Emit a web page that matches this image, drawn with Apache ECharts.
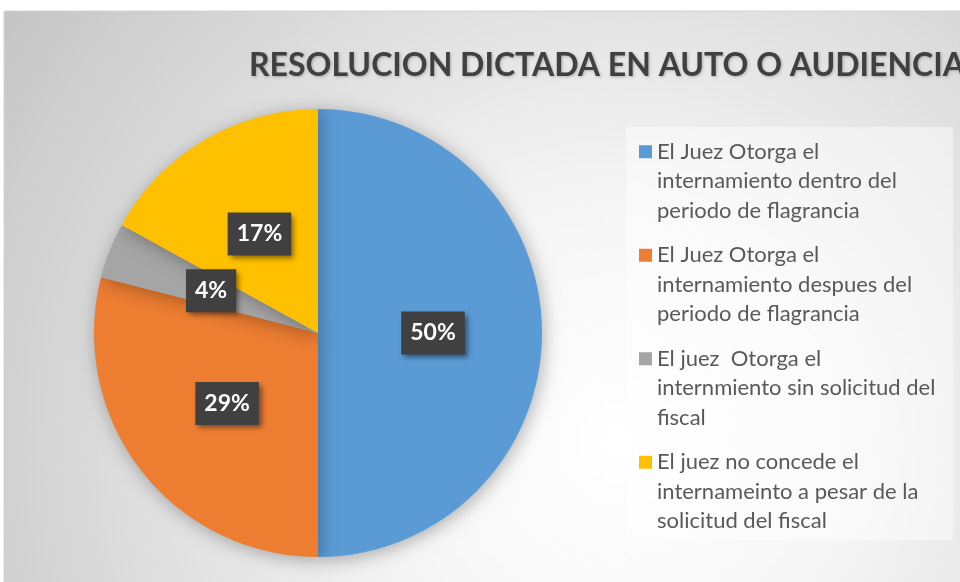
<!DOCTYPE html>
<html>
<head>
<meta charset="utf-8">
<script src="https://cdn.jsdelivr.net/npm/echarts@6/dist/echarts.min.js"></script>
<style>
  html, body { margin: 0; padding: 0; background: #ffffff; }
  #chart { width: 960px; height: 582px; }
</style>
</head>
<body>
<div id="chart"></div>
<script>
var chart = echarts.init(document.getElementById('chart'));

// categories and percentages
var categories = [
    'El Juez Otorga el\ninternamiento dentro del\nperiodo de flagrancia',
    'El Juez Otorga el\ninternamiento despues del\nperiodo de flagrancia',
    'El juez  Otorga el\ninternmiento sin solicitud del\nfiscal',
    'El juez no concede el\ninternameinto a pesar de la\nsolicitud del fiscal'
];
var values = [50, 29, 4, 17];
var colors = ['#5B9BD5', '#ED7D31', '#A5A5A5', '#FFC000'];

var pieData = categories.map(function (name, i) {
    return { name: name, value: values[i], itemStyle: { color: colors[i] } };
});

// square marker sitting on the first text line (tiny dot stretches the box down)
var legendIcon = 'path://M0,0h13v13h-13z M6,71.95h0.05v0.05h-0.05z';

var option = {
    animation: false,
    graphic: [
        {
            type: 'rect',
            z: -10,
            shape: { x: 4, y: 11, width: 960, height: 575 },
            style: {
                fill: {
                    type: 'radial', x: 0.64, y: 0.75, r: 1.35,
                    colorStops: [
                        { offset: 0, color: '#ffffff' },
                        { offset: 0.3, color: '#f6f6f6' },
                        { offset: 1, color: '#c2c2c2' }
                    ]
                },
                stroke: '#d4d4d4',
                lineWidth: 1
            }
        },
        {
            type: 'rect',
            z: -5,
            shape: { x: 626, y: 127, width: 327, height: 413 },
            style: { fill: 'rgba(255,255,255,0.45)' }
        }
    ],
    title: {
        text: 'RESOLUCION DICTADA EN AUTO O AUDIENCIA',
        left: 244,
        top: 45,
        textStyle: {
            fontFamily: 'Lato',
            fontWeight: 'bold',
            fontSize: 32,
            color: '#404040',
            textShadowColor: 'rgba(0,0,0,0.25)',
            textShadowBlur: 3,
            textShadowOffsetX: 1,
            textShadowOffsetY: 1
        }
    },
    legend: {
        orient: 'vertical',
        left: 634,
        top: 132,
        height: 430,
        itemWidth: 13,
        itemHeight: 72,
        itemGap: 15,
        icon: legendIcon,
        textStyle: {
            fontFamily: 'Lato',
            fontSize: 22,
            lineHeight: 29.5,
            color: '#595959'
        },
        data: categories
    },
    series: [
        {
            type: 'pie',
            center: [318, 333],
            radius: 224,
            startAngle: 90,
            clockwise: true,
            itemStyle: {
                shadowBlur: 18,
                shadowColor: 'rgba(0,0,0,0.3)',
                shadowOffsetX: 2,
                shadowOffsetY: 3
            },
            label: {
                position: 'inside',
                formatter: '{c}%',
                fontFamily: 'Lato',
                fontWeight: 'bold',
                fontSize: 23,
                lineHeight: 22,
                color: '#ffffff',
                backgroundColor: '#404040',
                padding: [11, 9, 10, 9],
                shadowBlur: 5,
                shadowColor: 'rgba(0,0,0,0.45)',
                shadowOffsetX: 3,
                shadowOffsetY: 3
            },
            labelLine: { show: false },
            emphasis: { disabled: true },
            data: pieData
        }
    ]
};

chart.setOption(option);

window.onresize = chart.resize;
</script>
</body>
</html>
